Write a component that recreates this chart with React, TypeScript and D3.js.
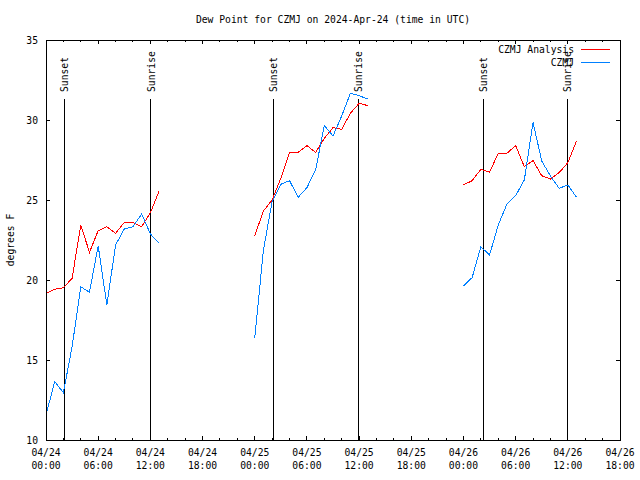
import React, { useEffect, useRef } from 'react';
import * as d3 from 'd3';

// hours since 2024-04-24 00:00 UTC, one reading per hour, three separate runs
const hours1 = [0, 1, 2, 3, 4, 5, 6, 7, 8, 9, 10, 11, 12, 13];
const hours2 = [24, 25, 26, 27, 28, 29, 30, 31, 32, 33, 34, 35, 36, 37];
const hours3 = [48, 49, 50, 51, 52, 53, 54, 55, 56, 57, 58, 59, 60, 61];

const analysis1 = [19.17, 19.42, 19.52, 20.1, 23.44, 21.73, 23.08, 23.33, 22.92, 23.6, 23.6, 23.33, 24.2, 25.56];
const analysis2 = [22.77, 24.31, 25.0, 26.35, 27.98, 27.98, 28.4, 27.98, 28.85, 29.52, 29.42, 30.42, 31.04, 30.9];
const analysis3 = [25.94, 26.21, 26.92, 26.73, 27.92, 27.92, 28.4, 27.08, 27.46, 26.52, 26.31, 26.71, 27.33, 28.69];

const obs1 = [11.56, 13.65, 12.96, 15.83, 19.58, 19.23, 22.13, 18.44, 22.19, 23.19, 23.33, 24.13, 22.88, 22.29];
const obs2 = [16.35, 21.88, 24.9, 25.98, 26.21, 25.17, 25.77, 26.88, 29.65, 29.0, 30.25, 31.67, 31.52, 31.31];
const obs3 = [19.63, 20.15, 22.08, 21.56, 23.44, 24.75, 25.27, 26.25, 29.85, 27.44, 26.5, 25.73, 25.94, 25.17];

const sunEvents = [
  { h: 2.09, label: 'Sunset' },
  { h: 12.04, label: 'Sunrise' },
  { h: 26.13, label: 'Sunset' },
  { h: 35.9, label: 'Sunrise' },
  { h: 50.27, label: 'Sunset' },
  { h: 59.94, label: 'Sunrise' },
];

const xTickHours = [0, 6, 12, 18, 24, 30, 36, 42, 48, 54, 60, 66];
const xTickDates = ['04/24', '04/24', '04/24', '04/24', '04/25', '04/25', '04/25', '04/25', '04/26', '04/26', '04/26', '04/26'];
const xTickTimes = ['00:00', '06:00', '12:00', '18:00', '00:00', '06:00', '12:00', '18:00', '00:00', '06:00', '12:00', '18:00'];
const yTicks = [10, 15, 20, 25, 30, 35];

const FONT = '"DejaVu Sans Mono", monospace';

export default function App() {
  const svgRef = useRef<SVGSVGElement>(null);

  useEffect(() => {
    if (!svgRef.current) return;
    const svg = d3.select(svgRef.current);
    svg.selectAll('*').remove();

    const left = 46, right = 620, top = 40, bottom = 440;
    const x = d3.scaleLinear().domain([0, 66]).range([left, right]);
    const y = d3.scaleLinear().domain([10, 35]).range([bottom, top]);

    const txt = (sel: d3.Selection<SVGTextElement, unknown, null, undefined>) =>
      sel.attr('font-family', FONT).attr('font-size', 9.7).attr('fill', '#000');

    svg.append('text').attr('x', 333).attr('y', 23).attr('text-anchor', 'middle')
      .call(txt).text('Dew Point for CZMJ on 2024-Apr-24 (time in UTC)');

    // y ticks + labels
    yTicks.forEach((v) => {
      svg.append('line').attr('x1', left).attr('x2', left + 4).attr('y1', y(v)).attr('y2', y(v))
        .attr('stroke', '#000');
      svg.append('line').attr('x1', right).attr('x2', right - 4).attr('y1', y(v)).attr('y2', y(v))
        .attr('stroke', '#000');
      svg.append('text').attr('x', 38).attr('y', y(v) + 4).attr('text-anchor', 'end')
        .call(txt).text(String(v));
    });

    svg.append('text').attr('transform', `translate(14,${240}) rotate(-90)`)
      .attr('text-anchor', 'middle').call(txt).text('degrees F');

    // x ticks: major every 6h, minor every 2h
    for (let h = 0; h <= 66; h += 2) {
      const major = h % 6 === 0;
      const len = major ? 4 : 2;
      svg.append('line').attr('x1', x(h)).attr('x2', x(h)).attr('y1', bottom).attr('y2', bottom - len)
        .attr('stroke', '#000');
      svg.append('line').attr('x1', x(h)).attr('x2', x(h)).attr('y1', top).attr('y2', top + len)
        .attr('stroke', '#000');
    }
    xTickHours.forEach((h, i) => {
      svg.append('text').attr('x', x(h)).attr('y', 456).attr('text-anchor', 'middle')
        .call(txt).text(xTickDates[i]);
      svg.append('text').attr('x', x(h)).attr('y', 469).attr('text-anchor', 'middle')
        .call(txt).text(xTickTimes[i]);
    });

    // sunrise / sunset markers
    sunEvents.forEach((e) => {
      svg.append('line').attr('x1', x(e.h)).attr('x2', x(e.h)).attr('y1', 99).attr('y2', bottom)
        .attr('stroke', '#000').attr('stroke-width', 1);
      svg.append('text').attr('transform', `translate(${x(e.h) + 4},92) rotate(-90)`)
        .attr('text-anchor', 'start').call(txt).text(e.label);
    });

    const line = d3.line<[number, number]>().x((d) => x(d[0])).y((d) => y(d[1]));
    const series = [
      { hours: hours1, vals: analysis1, color: '#ff0000' },
      { hours: hours2, vals: analysis2, color: '#ff0000' },
      { hours: hours3, vals: analysis3, color: '#ff0000' },
      { hours: hours1, vals: obs1, color: '#0080ff' },
      { hours: hours2, vals: obs2, color: '#0080ff' },
      { hours: hours3, vals: obs3, color: '#0080ff' },
    ];
    series.forEach((s) => {
      const pts = s.hours.map((h, i) => [h, s.vals[i]] as [number, number]);
      svg.append('path').datum(pts).attr('d', line).attr('fill', 'none')
        .attr('stroke', s.color).attr('stroke-width', 1);
    });

    // legend
    svg.append('text').attr('x', 574).attr('y', 53).attr('text-anchor', 'end').call(txt).text('CZMJ Analysis');
    svg.append('line').attr('x1', 581).attr('x2', 610).attr('y1', 49).attr('y2', 49).attr('stroke', '#ff0000');
    svg.append('text').attr('x', 574).attr('y', 66).attr('text-anchor', 'end').call(txt).text('CZMJ');
    svg.append('line').attr('x1', 581).attr('x2', 610).attr('y1', 62).attr('y2', 62).attr('stroke', '#0080ff');

    // frame
    svg.append('rect').attr('x', left).attr('y', top).attr('width', right - left).attr('height', bottom - top)
      .attr('fill', 'none').attr('stroke', '#000').attr('stroke-width', 1);
  }, []);

  return (
    <div style={{ position: 'absolute', left: 0, top: 0 }}>
      <svg ref={svgRef} width={640} height={480} style={{ display: 'block', background: '#fff' }} shapeRendering="crispEdges" />
    </div>
  );
}
